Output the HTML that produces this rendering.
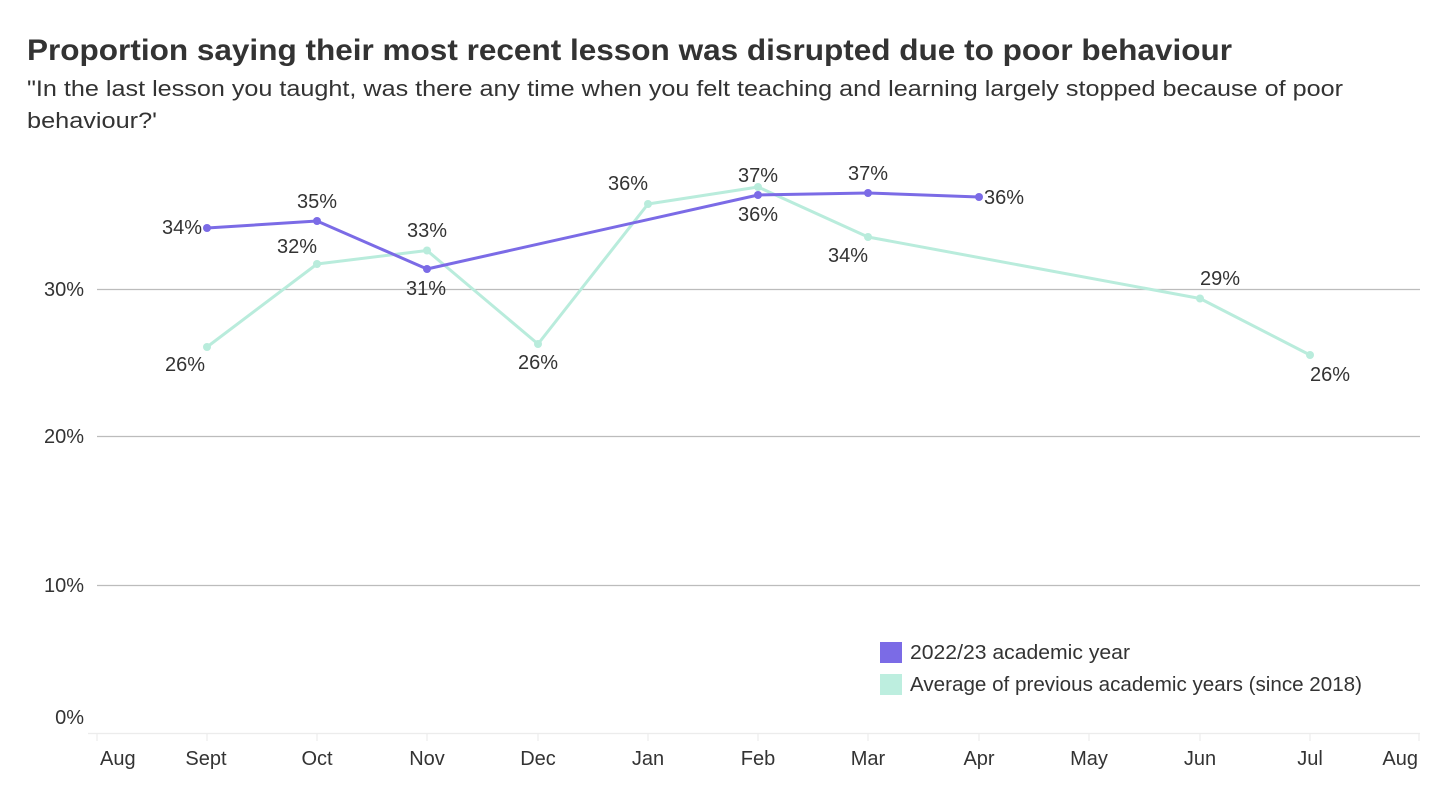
<!DOCTYPE html>
<html>
<head>
<meta charset="utf-8">
<style>
  html, body { margin: 0; padding: 0; background: #ffffff; }
  body { width: 1440px; height: 800px; overflow: hidden; }
  svg { display: block; }
  text { font-family: "Liberation Sans", "DejaVu Sans", sans-serif; fill: #333333; }
</style>
</head>
<body>
<svg width="1440" height="800" viewBox="0 0 1440 800" xmlns="http://www.w3.org/2000/svg">
  <rect width="1440" height="800" fill="#ffffff"/>

  <!-- Title & subtitle -->
  <text x="27" y="60" font-size="30" font-weight="bold" fill="#2e2e2e" textLength="1205" lengthAdjust="spacingAndGlyphs">Proportion saying their most recent lesson was disrupted due to poor behaviour</text>
  <text x="27" y="96" font-size="22" textLength="1316" lengthAdjust="spacingAndGlyphs">"In the last lesson you taught, was there any time when you felt teaching and learning largely stopped because of poor</text>
  <text x="27" y="128" font-size="22" textLength="130" lengthAdjust="spacingAndGlyphs">behaviour?'</text>

  <!-- Gridlines -->
  <g stroke="#bcbcbc" stroke-width="1.2">
    <line x1="97" y1="289.5" x2="1420" y2="289.5"/>
    <line x1="97" y1="436.5" x2="1420" y2="436.5"/>
    <line x1="97" y1="585.5" x2="1420" y2="585.5"/>
  </g>
  <!-- baseline & ticks (faint) -->
  <g stroke="#ececec" stroke-width="1.2">
    <line x1="88" y1="733.5" x2="1420" y2="733.5"/>
    <line x1="97" y1="734" x2="97" y2="741"/>
    <line x1="207" y1="734" x2="207" y2="741"/>
    <line x1="317" y1="734" x2="317" y2="741"/>
    <line x1="427" y1="734" x2="427" y2="741"/>
    <line x1="538" y1="734" x2="538" y2="741"/>
    <line x1="648" y1="734" x2="648" y2="741"/>
    <line x1="758" y1="734" x2="758" y2="741"/>
    <line x1="868" y1="734" x2="868" y2="741"/>
    <line x1="979" y1="734" x2="979" y2="741"/>
    <line x1="1089" y1="734" x2="1089" y2="741"/>
    <line x1="1200" y1="734" x2="1200" y2="741"/>
    <line x1="1310" y1="734" x2="1310" y2="741"/>
    <line x1="1419" y1="734" x2="1419" y2="741"/>
  </g>

  <!-- Y axis labels -->
  <g font-size="20" text-anchor="end">
    <text x="84" y="296">30%</text>
    <text x="84" y="443">20%</text>
    <text x="84" y="592">10%</text>
    <text x="84" y="724">0%</text>
  </g>

  <!-- X axis labels -->
  <g font-size="20" text-anchor="middle">
    <text x="100" y="765" text-anchor="start">Aug</text>
    <text x="206" y="765">Sept</text>
    <text x="317" y="765">Oct</text>
    <text x="427" y="765">Nov</text>
    <text x="538" y="765">Dec</text>
    <text x="648" y="765">Jan</text>
    <text x="758" y="765">Feb</text>
    <text x="868" y="765">Mar</text>
    <text x="979" y="765">Apr</text>
    <text x="1089" y="765">May</text>
    <text x="1200" y="765">Jun</text>
    <text x="1310" y="765">Jul</text>
    <text x="1418" y="765" text-anchor="end">Aug</text>
  </g>

  <!-- Green series (average) -->
  <polyline fill="none" stroke="#b9ecdc" stroke-width="3" stroke-linejoin="round"
    points="207,347 317,264 427,250.5 538,344 648,204 758,187 868,237 1200,298.5 1310,355"/>
  <g fill="#b9ecdc">
    <circle cx="207" cy="347" r="4"/>
    <circle cx="317" cy="264" r="4"/>
    <circle cx="427" cy="250.5" r="4"/>
    <circle cx="538" cy="344" r="4"/>
    <circle cx="648" cy="204" r="4"/>
    <circle cx="758" cy="187" r="4"/>
    <circle cx="868" cy="237" r="4"/>
    <circle cx="1200" cy="298.5" r="4"/>
    <circle cx="1310" cy="355" r="4"/>
  </g>

  <!-- Purple series (2022/23) -->
  <polyline fill="none" stroke="#7b6be6" stroke-width="3" stroke-linejoin="round"
    points="207,228 317,221 427,269 758,195 868,193 979,197"/>
  <g fill="#7b6be6">
    <circle cx="207" cy="228" r="4"/>
    <circle cx="317" cy="221" r="4"/>
    <circle cx="427" cy="269" r="4"/>
    <circle cx="758" cy="195" r="4"/>
    <circle cx="868" cy="193" r="4"/>
    <circle cx="979" cy="197" r="4"/>
  </g>

  <!-- Data labels -->
  <g font-size="20">
    <text x="202" y="234" text-anchor="end">34%</text>
    <text x="317" y="208" text-anchor="middle">35%</text>
    <text x="317" y="253" text-anchor="end">32%</text>
    <text x="427" y="237" text-anchor="middle">33%</text>
    <text x="426" y="295" text-anchor="middle">31%</text>
    <text x="205" y="371" text-anchor="end">26%</text>
    <text x="538" y="369" text-anchor="middle">26%</text>
    <text x="648" y="190" text-anchor="end">36%</text>
    <text x="758" y="182" text-anchor="middle">37%</text>
    <text x="758" y="221" text-anchor="middle">36%</text>
    <text x="868" y="180" text-anchor="middle">37%</text>
    <text x="868" y="262" text-anchor="end">34%</text>
    <text x="984" y="204" text-anchor="start">36%</text>
    <text x="1200" y="285" text-anchor="start">29%</text>
    <text x="1310" y="381" text-anchor="start">26%</text>
  </g>

  <!-- Legend -->
  <rect x="880" y="642" width="22" height="21" fill="#7b6be6"/>
  <rect x="880" y="674" width="22" height="21" fill="#bdeedf"/>
  <text x="910" y="659" font-size="20" textLength="220" lengthAdjust="spacingAndGlyphs">2022/23 academic year</text>
  <text x="910" y="691" font-size="20" textLength="452" lengthAdjust="spacingAndGlyphs">Average of previous academic years (since 2018)</text>
</svg>
</body>
</html>
